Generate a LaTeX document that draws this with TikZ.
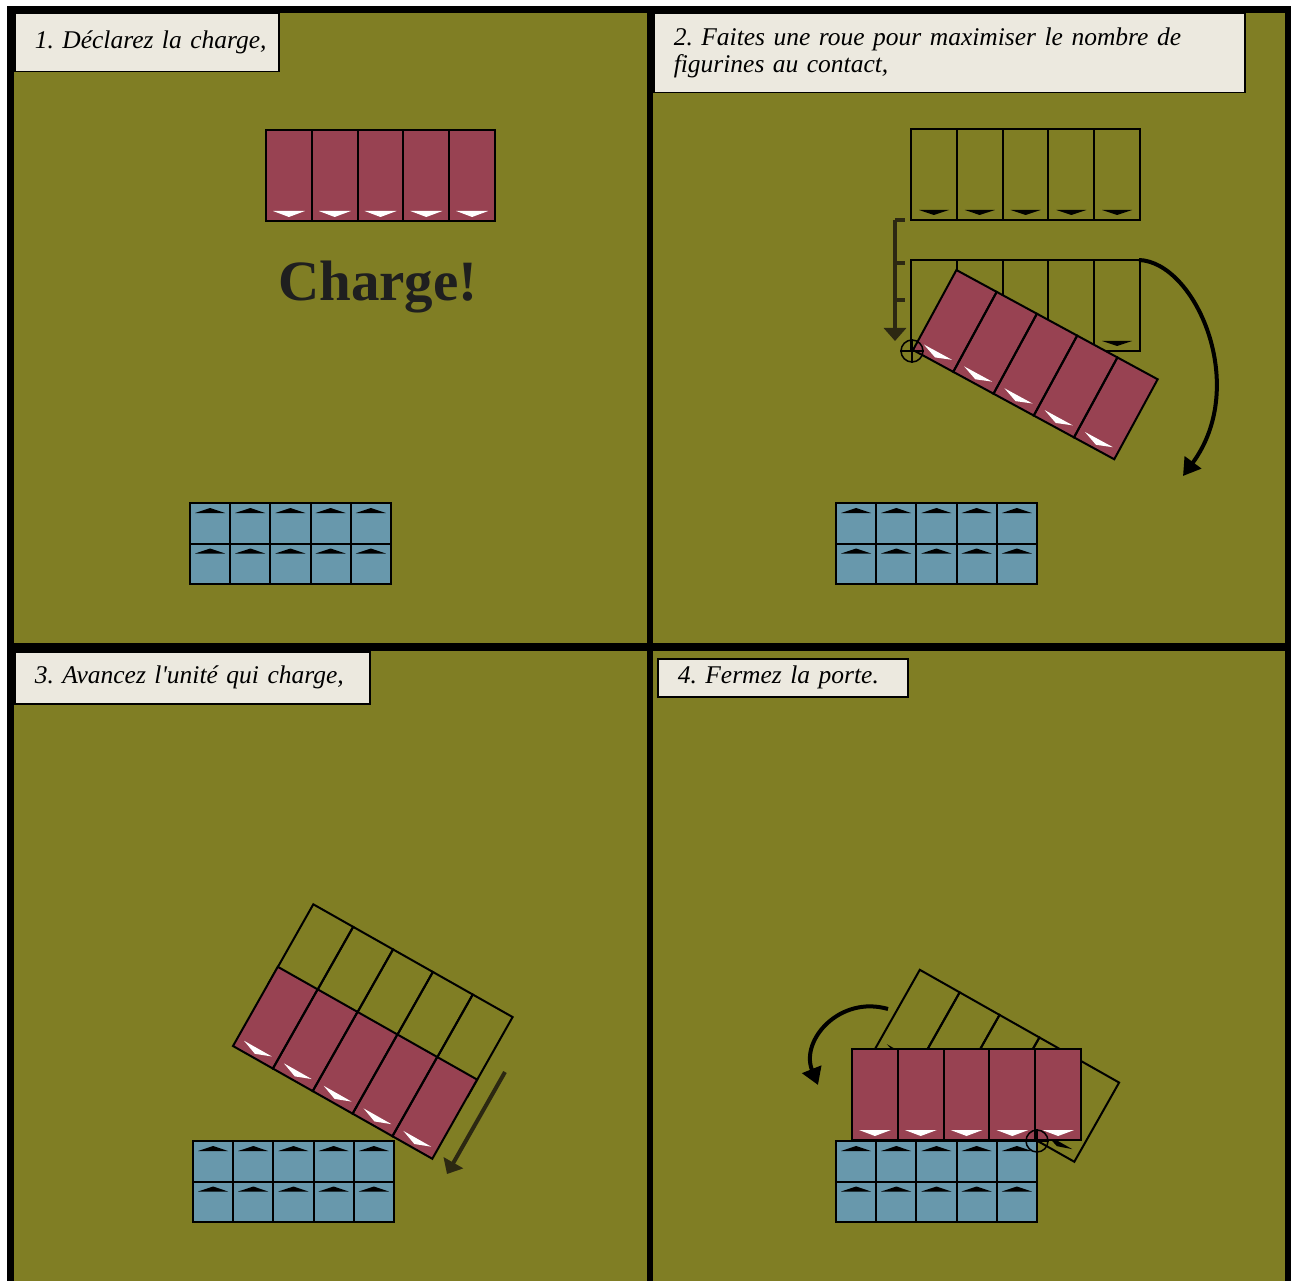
\documentclass[tikz,border=0pt]{standalone}
\usepackage{fontspec}
\setmainfont{Liberation Serif}
\usetikzlibrary{arrows.meta}
\definecolor{felt}{RGB}{128,126,36}
\definecolor{paper}{RGB}{236,233,223}
\definecolor{unitred}{RGB}{152,66,82}
\definecolor{unitblue}{RGB}{104,152,172}
\definecolor{ink}{RGB}{44,40,18}
\begin{document}
\begin{tikzpicture}[x=1pt, y=-1pt,
    caption/.style={draw, fill=paper, line width=1.5pt, anchor=north west, inner xsep=20pt, inner ysep=0pt,
      align=left, font=\fontsize{25.5}{27}\selectfont\itshape\frenchspacing},
    cell/.style={draw, line width=2pt},
    pivot/.style={draw, circle, line width=1.5pt, minimum size=22pt, inner sep=0pt},
    bigarrow/.style={line width=4pt, -{Triangle[width=20pt,length=17pt]}},
    moved/.style={draw=ink, line width=4pt, -{Triangle[width=22pt,length=13pt]}},
    redunit/.pic={
      \fill[unitred] (0,-91) rectangle (229,0);
      \foreach \i in {0,...,4} {
        \fill[white] ({\i*45.8+7},-10) -- ({\i*45.8+39},-10) -- ({\i*45.8+22.9},-4) -- cycle;
        \draw[cell] ({\i*45.8},-91) rectangle ({\i*45.8+45.8},0);
      }
    },
    ghostunit/.pic={
      \foreach \i in {0,...,4} {
        \fill ({\i*45.8+8},-10) -- ({\i*45.8+38},-10) -- ({\i*45.8+22.9},-5) -- cycle;
        \draw[cell] ({\i*45.8},-91) rectangle ({\i*45.8+45.8},0);
      }
    },
    blueunit/.pic={
      \fill[unitblue] (0,0) rectangle (201,81);
      \foreach \i in {0,...,4} {
        \foreach \j in {0,1} {
          \fill ({\i*40.2+5},{\j*40.5+10}) -- ({\i*40.2+35},{\j*40.5+10}) -- ({\i*40.2+20.1},{\j*40.5+5}) -- cycle;
          \draw[cell] ({\i*40.2},{\j*40.5}) rectangle ({\i*40.2+40.2},{\j*40.5+40.5});
        }
      }
    }]
  % board and frame
  \fill[white] (0,0) rectangle (1291,1281);
  \fill (7,6) rectangle (1291,1281);
  \fill[felt] (14,13) rectangle (647,643);
  \fill[felt] (653,13) rectangle (1285,643);
  \fill[felt] (14,651) rectangle (647,1281);
  \fill[felt] (653,651) rectangle (1285,1281);

  % 1. declare
  \node[caption, minimum height=58pt, text width=224pt] (cap1) at (14,13) {\makebox[224pt][l]{1. Déclarez la charge,}};
  \pic at (266,221) {redunit};
  \node[anchor=base, text=black!88, font=\fontsize{57}{60}\selectfont\bfseries] (cry) at (378,301) {Charge!};
  \pic at (190,503) {blueunit};

  % 2. wheel
  \node[caption, minimum height=79pt, text width=551pt] (cap2) at (653,13)
    {2. Faites une roue pour maximiser le nombre de\\figurines au contact,};
  \pic at (911,220) {ghostunit};
  \pic at (911,351) {ghostunit};
  \coordinate (wheelstart) at (1139,260);
  \coordinate (wheelend) at (1183,476);
  \pic[rotate=-28.5] at (913,350) {redunit};
  \node[pivot] (pivot2) at (912,351) {};
  \draw[line width=1.5pt] (pivot2.north) -- (pivot2.south) (pivot2.west) -- (pivot2.east);
  \coordinate (sticktop) at (895,220);
  \coordinate (stickend) at (895,341);
  \draw[moved] (sticktop) -- (stickend);
  \draw[ink, line width=4pt] (sticktop) -- ++(10,0) (895,263) -- ++(10,0) (895,300) -- ++(10,0);
  \draw[bigarrow] (wheelstart) .. controls (1195,262) and (1250,385) .. (wheelend);
  \pic at (836,503) {blueunit};

  % 3. advance
  \node[caption, minimum height=52pt, text width=315pt] (cap3) at (14,651) {3. Avancez l\textquotesingle unité qui charge,};
  \pic[rotate=-29.5] at (268.5,983.5) {ghostunit};
  \pic[rotate=-29.5] at (233,1046) {redunit};
  \pic at (193,1141) {blueunit};
  \coordinate (advstart) at (505,1072);
  \coordinate (advend) at (447,1174);
  \draw[moved] (advstart) -- (advend);

  % 4. close the door
  \node[caption, minimum height=38pt, text width=210pt] (cap4) at (657,658) {4. Fermez la porte.};
  \pic[rotate=-29.5] at (875,1049) {ghostunit};
  \pic at (836,1141) {blueunit};
  \pic at (852,1140) {redunit};
  \node[pivot] (pivot4) at (1037,1141) {};
  \draw[line width=1.5pt] (pivot4.north) -- (pivot4.south) (pivot4.west) -- (pivot4.east);
  \coordinate (doorstart) at (888,1009);
  \coordinate (doorend) at (818,1085);
  \draw[bigarrow] (doorstart) .. controls (840,995) and (800,1040) .. (doorend);
\end{tikzpicture}
\end{document}
